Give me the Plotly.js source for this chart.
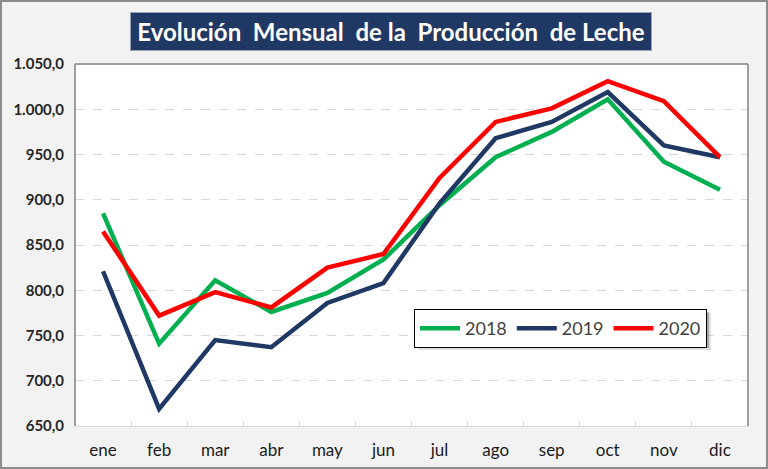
<!DOCTYPE html>
<html><head><meta charset="utf-8">
<script src="https://cdn.plot.ly/plotly-3.0.1.min.js"></script>
<style>
html,body{margin:0;padding:0;background:#f2f2f2;}
#chart{width:764px;height:465px;border:2px solid #8c8c8c;}
</style></head>
<body><div id="chart"></div>
<script>
const months = ['ene','feb','mar','abr','may','jun','jul','ago','sep','oct','nov','dic'];
const y2018 = [885, 741, 811, 776, 797, 834, 894, 947, 975, 1011, 942, 911];
const y2019 = [821, 669, 745, 737, 786, 808, 896, 968, 986, 1019, 960, 947];
const y2020 = [865, 772, 798, 781, 825, 840, 924, 986, 1001, 1031, 1009, 947];
const yTicks = [650,700,750,800,850,900,950,1000,1050];

const mk = (name, y, color) => ({
  type:'scatter', mode:'lines', name:name, x:months, y:y,
  line:{color:color, width:4.5}
});
const traces = [mk('2018', y2018, '#00b050'), mk('2019', y2019, '#1f3864'), mk('2020', y2020, '#ff0000')];

const font = "Lato, 'Open Sans', sans-serif";
const px = v => (v - 75) / 673;
const py = v => (426 - v) / 362;
const layout = {
  width:764, height:465,
  margin:{l:73, r:18, t:62, b:41},
  paper_bgcolor:'#f2f2f2', plot_bgcolor:'#ffffff',
  separators:',.',
  showlegend:true,
  font:{family:font, color:'#262626'},
  xaxis:{
    type:'category', tickson:'boundaries', ticks:'inside', ticklen:5, tickcolor:'#d9d9d9',
    showgrid:false, showline:true, linecolor:'#d9d9d9', linewidth:1,
    tickfont:{size:17, color:'#1a1a1a', family:font}, ticklabelstandoff:9,
    range:[-0.5, 11.5], fixedrange:true
  },
  yaxis:{
    range:[650,1050], tickvals:yTicks, tickformat:',.1f',
    showgrid:true, gridcolor:'#d9d9d9', griddash:'dash', gridwidth:1,
    zeroline:false, showline:false, ticks:'',
    tickfont:{size:15, color:'#262626', family:font, weight:'bold'}, ticklabelstandoff:10
  },
  shapes:[
    {type:'line', xref:'paper', yref:'paper', x0:0, x1:0, y0:0, y1:1, line:{color:'#808080', width:1.5}},
    {type:'line', xref:'paper', yref:'paper', x0:0, x1:1, y0:1, y1:1, line:{color:'#808080', width:1.5}},
    {type:'line', xref:'paper', yref:'paper', x0:1, x1:1, y0:0, y1:1, line:{color:'#808080', width:1.5}},
    {type:'rect', xref:'paper', yref:'paper', x0:px(418), x1:px(711), y0:py(350), y1:py(313),
     fillcolor:'rgba(0,0,0,0.12)', line:{width:0}, layer:'above'},
    {type:'rect', xref:'paper', yref:'paper', x0:px(417), x1:px(709), y0:py(348), y1:py(312),
     fillcolor:'rgba(0,0,0,0.25)', line:{width:0}, layer:'above'}
  ],
  legend:{
    orientation:'h', x:px(414), y:py(309), xanchor:'left', yanchor:'top',
    bgcolor:'#ffffff', bordercolor:'#000000', borderwidth:1,
    font:{size:18, color:'#404040', family:font}, itemwidth:40, tracegroupgap:0
  },
  annotations:[{
    text:'Evolución  Mensual  de la  Producción  de Leche',
    xref:'paper', yref:'paper', x:px(391), y:py(31), xanchor:'center', yanchor:'middle',
    showarrow:false, bgcolor:'#1f3864', bordercolor:'#9aa4b8', borderwidth:1, borderpad:4,
    width:512, height:29,
    font:{size:24, color:'#ffffff', family:font, weight:'bold'}
  }]
};
Plotly.newPlot('chart', traces, layout, {displayModeBar:false, staticPlot:true});
</script></body></html>
